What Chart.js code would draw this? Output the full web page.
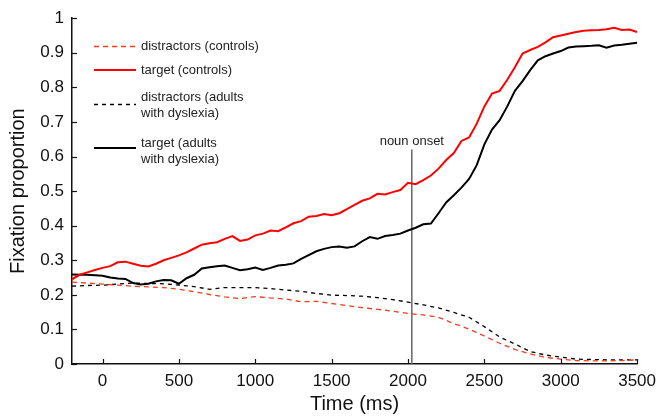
<!DOCTYPE html>
<html>
<head>
<meta charset="utf-8">
<script src="https://cdn.jsdelivr.net/npm/chart.js@4.4.1/dist/chart.umd.min.js"></script>
<style>
    html, body { margin: 0; padding: 0; background: #fff; }
    #wrap { width: 663px; height: 417px; }
</style>
</head>
<body>
<div id="wrap"><canvas id="fixChart" width="663" height="417"></canvas></div>
<script>
// ===== DATA =====
// target curves read every 50 ms, distractor curves every 100 ms
const timesFine = [-200, -150, -100, -50, 0, 50, 100, 150, 200, 250, 300, 350, 400, 450, 500, 550, 600, 650, 700, 750,
    800, 850, 900, 950, 1000, 1050, 1100, 1150, 1200, 1250, 1300, 1350, 1400, 1450, 1500, 1550, 1600, 1650, 1700, 1750,
    1800, 1850, 1900, 1950, 2000, 2050, 2100, 2150, 2200, 2250, 2300, 2350, 2400, 2450, 2500, 2550, 2600, 2650, 2700, 2750,
    2800, 2850, 2900, 2950, 3000, 3050, 3100, 3150, 3200, 3250, 3300, 3350, 3400, 3450, 3500];

const timesCoarse = [-200, -100, 0, 100, 200, 300, 400, 500, 600, 700, 800, 900, 1000, 1100, 1200, 1300, 1400, 1500, 1600, 1700,
    1800, 1900, 2000, 2100, 2200, 2300, 2400, 2500, 2600, 2700, 2800, 2900, 3000, 3100, 3200, 3300, 3400, 3500];

const targetControls = [0.245, 0.258, 0.265, 0.272, 0.278, 0.283, 0.294, 0.296, 0.290, 0.284, 0.282, 0.290, 0.300, 0.307,
    0.314, 0.323, 0.334, 0.345, 0.349, 0.352, 0.362, 0.370, 0.356, 0.360, 0.372, 0.377, 0.386, 0.384, 0.395, 0.407,
    0.413, 0.426, 0.428, 0.434, 0.430, 0.436, 0.448, 0.460, 0.472, 0.479, 0.492, 0.490, 0.497, 0.503, 0.524, 0.520,
    0.532, 0.545, 0.565, 0.590, 0.610, 0.645, 0.655, 0.695, 0.745, 0.782, 0.790, 0.822, 0.858, 0.898, 0.908, 0.917,
    0.930, 0.945, 0.950, 0.955, 0.960, 0.964, 0.965, 0.966, 0.968, 0.972, 0.966, 0.967, 0.960];

const targetDyslexia = [0.259, 0.258, 0.258, 0.257, 0.255, 0.250, 0.247, 0.246, 0.234, 0.230, 0.232, 0.239, 0.243, 0.242,
    0.232, 0.248, 0.258, 0.276, 0.280, 0.283, 0.285, 0.278, 0.271, 0.274, 0.279, 0.272, 0.278, 0.285, 0.287, 0.291,
    0.304, 0.315, 0.326, 0.333, 0.338, 0.340, 0.336, 0.340, 0.355, 0.367, 0.362, 0.370, 0.373, 0.377, 0.386, 0.394,
    0.404, 0.406, 0.436, 0.467, 0.488, 0.510, 0.535, 0.575, 0.635, 0.678, 0.705, 0.745, 0.790, 0.818, 0.850, 0.878,
    0.890, 0.898, 0.905, 0.915, 0.918, 0.919, 0.920, 0.922, 0.915, 0.921, 0.923, 0.926, 0.929];

const distractorsControls = [0.237, 0.234, 0.231, 0.228, 0.225, 0.223, 0.221, 0.216, 0.209, 0.201, 0.194, 0.189, 0.195, 0.191,
    0.188, 0.180, 0.181, 0.175, 0.169, 0.163, 0.158, 0.153, 0.146, 0.142, 0.135, 0.117, 0.101, 0.081, 0.060, 0.042,
    0.029, 0.019, 0.014, 0.010, 0.009, 0.009, 0.010, 0.012];

const distractorsDyslexia = [0.225, 0.227, 0.228, 0.231, 0.234, 0.233, 0.232, 0.228, 0.224, 0.216, 0.221, 0.221, 0.221, 0.218,
    0.214, 0.210, 0.204, 0.199, 0.198, 0.196, 0.192, 0.186, 0.179, 0.171, 0.162, 0.149, 0.135, 0.108, 0.078, 0.058,
    0.036, 0.026, 0.020, 0.014, 0.013, 0.012, 0.012, 0.012];

const seriesLabels = [
    ['distractors (controls)'],
    ['target (controls)'],
    ['distractors (adults', 'with dyslexia)'],
    ['target (adults', 'with dyslexia)']
];

const xTicks = [0, 500, 1000, 1500, 2000, 2500, 3000, 3500];
const yTicks = [0, 0.1, 0.2, 0.3, 0.4, 0.5, 0.6, 0.7, 0.8, 0.9, 1];

const nounOnset = 2025;
const nounLineTop = 0.62;
const nounLabel = 'noun onset';

const FONT = 'Liberation Sans, Arial, Helvetica, sans-serif';

function toPoints(ts, values) {
    return ts.map((t, i) => ({ x: t, y: values[i] }));
}

// Легенда внутри графика (многострочные подписи)
const legendPlugin = {
    id: 'insideLegend',
    afterDatasetsDraw(chart) {
        const ctx = chart.ctx;
        const rows = [
            { lineY: 46.5, textY: [46.5] },
            { lineY: 70, textY: [70] },
            { lineY: 104.5, textY: [97, 113] },
            { lineY: 148, textY: [143, 159] }
        ];
        ctx.save();
        ctx.font = '13px ' + FONT;
        ctx.textBaseline = 'middle';
        ctx.fillStyle = '#222';
        rows.forEach((row, i) => {
            const ds = chart.data.datasets[i];
            ctx.beginPath();
            ctx.strokeStyle = ds.borderColor;
            ctx.lineWidth = ds.borderWidth;
            ctx.setLineDash(ds.borderDash || []);
            ctx.moveTo(94, row.lineY);
            ctx.lineTo(136, row.lineY);
            ctx.stroke();
            ctx.setLineDash([]);
            seriesLabels[i].forEach((txt, j) => {
                ctx.fillText(txt, 141, row.textY[j]);
            });
        });
        ctx.restore();
    }
};

// Деления внутрь осей + подпись "noun onset"
const extrasPlugin = {
    id: 'extras',
    afterDraw(chart) {
        const ctx = chart.ctx;
        const xs = chart.scales.x;
        const ys = chart.scales.y;
        const area = chart.chartArea;
        ctx.save();
        ctx.strokeStyle = '#111';
        ctx.lineWidth = 1.2;
        xTicks.forEach(v => {
            const px = Math.round(xs.getPixelForValue(v)) + 0.5;
            ctx.beginPath();
            ctx.moveTo(px, area.bottom);
            ctx.lineTo(px, area.bottom - 5);
            ctx.stroke();
        });
        yTicks.forEach(v => {
            const py = Math.round(ys.getPixelForValue(v)) + 0.5;
            ctx.beginPath();
            ctx.moveTo(area.left, py);
            ctx.lineTo(area.left + 5, py);
            ctx.stroke();
        });
        ctx.font = '13px ' + FONT;
        ctx.fillStyle = '#222';
        ctx.textAlign = 'center';
        ctx.textBaseline = 'middle';
        ctx.fillText(nounLabel, xs.getPixelForValue(nounOnset), ys.getPixelForValue(nounLineTop) - 8);
        ctx.restore();
    }
};

const ctx = document.getElementById('fixChart').getContext('2d');
new Chart(ctx, {
    type: 'line',
    data: {
        datasets: [
            {
                label: seriesLabels[0].join(' '),
                data: toPoints(timesCoarse, distractorsControls),
                borderColor: '#ec3d1f',
                borderWidth: 1.3,
                borderDash: [5, 4],
                pointRadius: 0,
                tension: 0
            },
            {
                label: seriesLabels[1].join(' '),
                data: toPoints(timesFine, targetControls),
                borderColor: '#ff0000',
                borderWidth: 2,
                pointRadius: 0,
                tension: 0
            },
            {
                label: seriesLabels[2].join(' '),
                data: toPoints(timesCoarse, distractorsDyslexia),
                borderColor: '#000000',
                borderWidth: 1.3,
                borderDash: [4, 4],
                pointRadius: 0,
                tension: 0
            },
            {
                label: seriesLabels[3].join(' '),
                data: toPoints(timesFine, targetDyslexia),
                borderColor: '#000000',
                borderWidth: 2,
                pointRadius: 0,
                tension: 0
            },
            {
                label: nounLabel,
                data: [{ x: nounOnset, y: 0 }, { x: nounOnset, y: nounLineTop }],
                borderColor: '#666666',
                borderWidth: 1.5,
                pointRadius: 0
            }
        ]
    },
    options: {
        responsive: false,
        animation: false,
        layout: { padding: { top: 17, right: 22, left: 0, bottom: 0 } },
        plugins: {
            legend: { display: false },
            tooltip: { enabled: false }
        },
        scales: {
            x: {
                type: 'linear',
                min: -200,
                max: 3500,
                afterBuildTicks: scale => { scale.ticks = xTicks.map(v => ({ value: v })); },
                afterFit: scale => { scale.height = 53; },
                grid: { display: false, drawTicks: false },
                border: { display: true, color: '#111', width: 1.5 },
                ticks: {
                    color: '#111',
                    padding: 7,
                    maxRotation: 0,
                    font: { family: FONT, size: 17 },
                    callback: v => String(v)
                },
                title: {
                    display: true,
                    text: 'Time (ms)',
                    color: '#111',
                    padding: { top: 0, bottom: 1 },
                    font: { family: FONT, size: 20 }
                }
            },
            y: {
                min: 0,
                max: 1,
                afterBuildTicks: scale => { scale.ticks = yTicks.map(v => ({ value: v })); },
                afterFit: scale => { scale.width = 72; },
                grid: { display: false, drawTicks: false },
                border: { display: true, color: '#111', width: 1.5 },
                ticks: {
                    color: '#111',
                    padding: 8,
                    font: { family: FONT, size: 17 },
                    callback: v => String(Number(v.toFixed(1)))
                },
                title: {
                    display: true,
                    text: 'Fixation proportion',
                    color: '#111',
                    padding: { top: 6, bottom: 0 },
                    font: { family: FONT, size: 20 }
                }
            }
        }
    },
    plugins: [legendPlugin, extrasPlugin]
});
</script>
</body>
</html>
